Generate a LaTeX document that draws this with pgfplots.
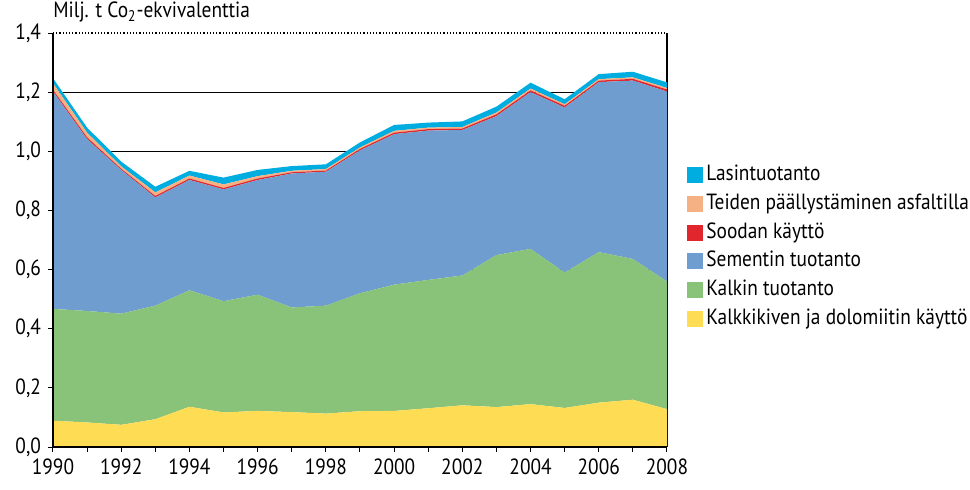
\documentclass[border=0pt]{standalone}
\usepackage{fontspec}
\setmainfont{PT Sans}[FakeStretch=0.88]
\usepackage{pgfplots}
\pgfplotsset{compat=1.18}
\usepackage{pgfplotstable}

\definecolor{cLasi}{HTML}{00ADE0}
\definecolor{cTie}{HTML}{F5B183}
\definecolor{cSooda}{HTML}{E1262D}
\definecolor{cSem}{HTML}{6F9DCF}
\definecolor{cKalkki}{HTML}{89C279}
\definecolor{cKivi}{HTML}{FEDD55}

% year, kalkkikivi, kalkki, sementti, sooda, tiet, lasi
\pgfplotstableread{
year kivi kalkki sem sooda tie lasi
1990 0.089 0.378 0.735 0.006 0.022 0.017
1991 0.083 0.377 0.581 0.006 0.016 0.017
1992 0.075 0.376 0.486 0.004 0.008 0.016
1993 0.094 0.384 0.366 0.005 0.012 0.019
1994 0.136 0.394 0.373 0.005 0.010 0.016
1995 0.117 0.376 0.378 0.005 0.012 0.023
1996 0.122 0.393 0.388 0.005 0.008 0.021
1997 0.118 0.354 0.453 0.004 0.005 0.016
1998 0.113 0.365 0.453 0.004 0.005 0.016
1999 0.121 0.399 0.483 0.005 0.005 0.017
2000 0.122 0.427 0.509 0.005 0.006 0.020
2001 0.131 0.434 0.505 0.005 0.005 0.017
2002 0.141 0.439 0.492 0.005 0.005 0.019
2003 0.135 0.514 0.470 0.006 0.006 0.020
2004 0.145 0.525 0.530 0.006 0.006 0.020
2005 0.132 0.458 0.558 0.006 0.005 0.017
2006 0.150 0.509 0.575 0.005 0.005 0.017
2007 0.160 0.476 0.603 0.006 0.005 0.019
2008 0.128 0.432 0.642 0.007 0.005 0.019
}\datatable

\pgfplotsset{base/.style={
    at={(0,0)}, anchor=south west,
    scale only axis,
    width=307pt, height=207pt,
    xmin=1990, xmax=2008,
    ymin=0, ymax=1.4,
}}

\begin{document}
\begin{tikzpicture}
\path[use as bounding box] (-26.5pt,-21pt) rectangle (458.5pt,223.5pt);
% grid only, behind the areas
\begin{axis}[base,
    hide x axis, axis y line*=left, y axis line style={draw=none},
    ytick={0.2,0.4,...,1.2}, yticklabels={}, major tick length=0pt,
    ymajorgrids, grid style={black, line width=0.5pt},
]
\end{axis}
\begin{axis}[base,
    stack plots=y,
    area style,
    axis x line*=bottom,
    axis y line*=left,
    xtick={1990,1992,...,2008},
    minor xtick={1991,1993,...,2007},
    ytick={0,0.2,...,1.4},
    tick align=outside,
    major tick length=2.5pt,
    minor tick length=2.5pt,
    tick style={black, line width=0.5pt},
    x tick label style={/pgf/number format/.cd, set thousands separator={}, 1000 sep={}, assume math mode=true},
    y tick label style={/pgf/number format/.cd, fixed, fixed zerofill, precision=1, use comma, assume math mode=true},
    axis line style={black, line width=0.6pt},
    tick label style={font=\fontsize{11}{12}\selectfont},
    legend style={draw=none, fill=none, at={(1,0.5)}, anchor=west, xshift=10pt, yshift=-3.5pt,
        inner sep=0pt, row sep=4.85pt, font=\fontsize{11}{12}\selectfont,
        nodes={inner sep=0pt, text height=7.5pt, text depth=2pt}},
    legend cell align=left,
    reverse legend,
    legend image code/.code={\fill[#1] (0pt,-4pt) rectangle (8pt,4pt); \path (9.5pt,0pt);},
    clip=false,
]
\addplot[fill=cKivi, draw=none] table[x=year, y=kivi] {\datatable} \closedcycle;
\addlegendentry{Kalkkikiven ja dolomiitin käyttö}
\addplot[fill=cKalkki, draw=none] table[x=year, y=kalkki] {\datatable} \closedcycle;
\addlegendentry{Kalkin tuotanto}
\addplot[fill=cSem, draw=none] table[x=year, y=sem] {\datatable} \closedcycle;
\addlegendentry{Sementin tuotanto}
\addplot[fill=cSooda, draw=none] table[x=year, y=sooda] {\datatable} \closedcycle;
\addlegendentry{Soodan käyttö}
\addplot[fill=cTie, draw=none] table[x=year, y=tie] {\datatable} \closedcycle;
\addlegendentry{Teiden päällystäminen asfaltilla}
\addplot[fill=cLasi, draw=none] table[x=year, y=lasi] {\datatable} \closedcycle;
\addlegendentry{Lasintuotanto}
\draw[black, line width=0.6pt] (rel axis cs:1,0) -- (rel axis cs:1,1);
\draw[black, line width=0.6pt, densely dotted] (rel axis cs:0,1) -- (rel axis cs:1,1);
\node[anchor=south west, inner sep=0pt, font=\fontsize{11}{12}\selectfont] at ([yshift=5pt]rel axis cs:0,1) {Milj. t Co\textsubscript{2}-ekvivalenttia};
\end{axis}
\end{tikzpicture}
\end{document}
